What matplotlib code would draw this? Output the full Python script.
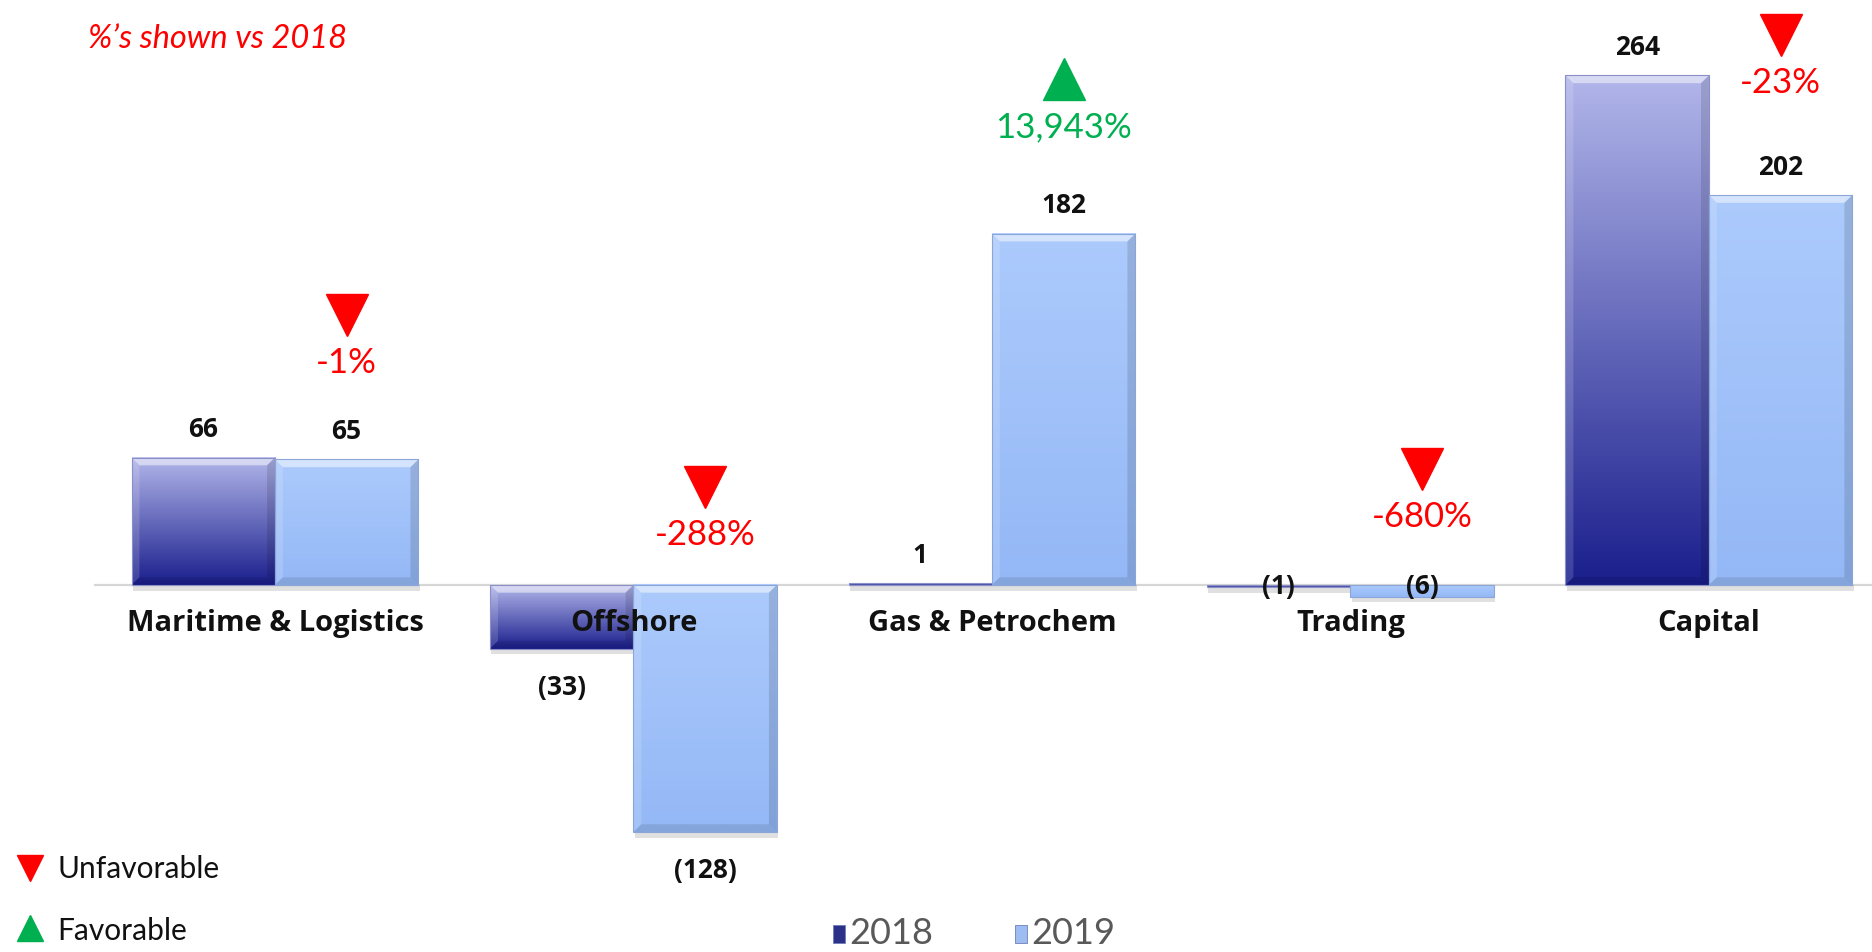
import numpy as np
import matplotlib.pyplot as plt
from matplotlib.patches import Polygon, Rectangle

# data
categories = ["Maritime & Logistics", "Offshore", "Gas & Petrochem", "Trading", "Capital"]
values_2018 = [66, -33, 1, -1, 264]
values_2019 = [65, -128, 182, -6, 202]
pct_labels = ["-1%", "-288%", "13,943%", "-680%", "-23%"]
favorable = [False, False, True, False, False]

# layout: height (data units) of the % text above each category
pct_y = [115, 26, 237, 35, 260]

W, H = 1872, 952
RED = "#ff0000"
GREEN = "#00b050"


def fmt(v):
    return f"({abs(v)})" if v < 0 else str(v)


def shade_bar(ax, patch, top, bottom, edge):
    x0, y0 = patch.get_xy()
    bw, bh = patch.get_width(), patch.get_height()
    lo, hi = min(y0, y0 + bh), max(y0, y0 + bh)
    t = np.linspace(0, 1, 200)[:, None]
    top = np.array(top) / 255.0
    bottom = np.array(bottom) / 255.0
    img = (top + (bottom - top) * t)[:, None, :].repeat(2, axis=1)
    ax.imshow(img, extent=[x0, x0 + bw, lo, hi], origin="upper",
              aspect="auto", interpolation="bilinear", zorder=3)
    # small shadow under the bar
    ax.add_patch(Rectangle((x0 + 0.004, lo - 3), bw, 3, color="#000000",
                           alpha=0.12, lw=0, zorder=2))
    ax.add_patch(Rectangle((x0, lo), bw, hi - lo, fill=False, ec=edge,
                           lw=0.8, zorder=5))
    dx, dy = 0.022, 4.0
    if hi - lo < 2.5 * dy:
        return
    l, r, b, tp = x0, x0 + bw, lo, hi
    bevels = [
        ([(l, tp), (r, tp), (r - dx, tp - dy), (l + dx, tp - dy)], "white", 0.5),
        ([(l, tp), (l + dx, tp - dy), (l + dx, b + dy), (l, b)], "white", 0.15),
        ([(r, tp), (r, b), (r - dx, b + dy), (r - dx, tp - dy)], "black", 0.12),
        ([(l, b), (r, b), (r - dx, b + dy), (l + dx, b + dy)], "black", 0.10),
    ]
    for pts, c, a in bevels:
        ax.add_patch(Polygon(pts, closed=True, color=c, alpha=a, lw=0, zorder=4))


fig = plt.figure(figsize=(W / 100, H / 100), dpi=100)
ax = fig.add_axes([0, 0, 1, 1])
ax.axis("off")

x = np.arange(len(categories))
w = 0.4
ax.plot([-0.502, 4.46], [0, 0], color="#d6d6d6", lw=1.6, zorder=1)

bars18 = ax.bar(x - w / 2, values_2018, w, color="none", lw=0, zorder=2)
bars19 = ax.bar(x + w / 2, values_2019, w, color="none", lw=0, zorder=2)

for p in bars18:
    shade_bar(ax, p, (178, 182, 234), (26, 30, 140), "#8a8fc8")
for p in bars19:
    shade_bar(ax, p, (172, 202, 252), (148, 184, 246), "#8aa6d8")

ax.set_xlim(-0.767, 4.455)
ax.set_ylim(-190.2, 303.1)

# value labels
for bars, vals in ((bars18, values_2018), (bars19, values_2019)):
    for p, v in zip(bars, vals):
        cx = p.get_x() + p.get_width() / 2
        if v >= 0:
            y = v + 14.5
        elif v < -10:
            y = v - 20
        else:
            y = -1
        ax.text(cx, y, fmt(v), ha="center", va="center", fontsize=19,
                fontweight="bold", family="Open Sans", color="#111111", zorder=6)

# category labels
for xi, name in zip(x, categories):
    ax.text(xi, -20.2, name, ha="center", va="center", fontsize=21,
            fontweight="bold", family="Open Sans", color="#111111", zorder=6)

# % change markers vs 2018
for xi, lab, fav, py in zip(x, pct_labels, favorable, pct_y):
    c = GREEN if fav else RED
    ax.plot(xi + w / 2, py + 25, marker="^" if fav else "v", ms=30,
            color=c, mec=c, ls="none", zorder=6)
    ax.text(xi + w / 2, py, lab, ha="center", va="center", fontsize=25,
            family="Lato", color=c, zorder=6)

# annotations in pixel positions of the figure
def fx(px):
    return px / W


def fy(py):
    return 1 - py / H


fig.text(fx(88), fy(39), "%\u2019s shown vs 2018", ha="left", va="center",
         fontsize=23.5, style="italic", family="Lato", color=RED)

ax.plot(fx(30), fy(868), marker="v", ms=19, color=RED, ls="none",
        transform=fig.transFigure, clip_on=False)
fig.text(fx(57), fy(869), "Unfavorable", ha="left", va="center",
         fontsize=21.5, family="Lato", color="#111111")
ax.plot(fx(30), fy(928), marker="^", ms=19, color=GREEN, ls="none",
        transform=fig.transFigure, clip_on=False)
fig.text(fx(57), fy(931), "Favorable", ha="left", va="center",
         fontsize=21.5, family="Lato", color="#111111")

# series legend
for px, col, lab in ((839, "#2b3088", "2018"), (1021, "#9dbcf2", "2019")):
    fig.patches.append(Rectangle((fx(px - 6), fy(943)), 12 / W, 18 / H,
                                 transform=fig.transFigure, fc=col,
                                 ec="#6f7fb8", lw=0.6))
    fig.text(fx(px + 10), fy(934), lab, ha="left", va="center",
             fontsize=26, family="Lato", color="#595959")

fig.savefig("out.png", dpi=100)
